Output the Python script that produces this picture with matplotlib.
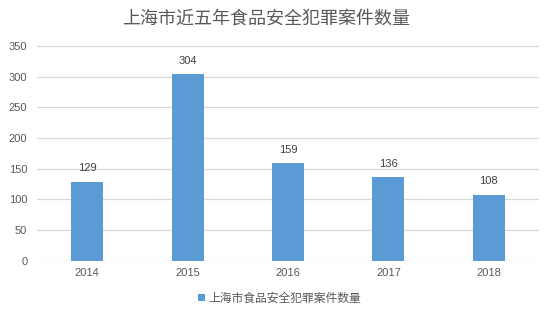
import matplotlib.pyplot as plt

plt.rcParams['font.family'] = ['Liberation Sans', 'Noto Sans CJK SC', 'DejaVu Sans']

# 数据
years = ['2014', '2015', '2016', '2017', '2018']
cases = [129, 304, 159, 136, 108]
title = '上海市近五年食品安全犯罪案件数量'
series_name = '上海市食品安全犯罪案件数量'

bar_color = '#5B9BD5'
text_color = '#595959'
grid_color = '#D9D9D9'

fig = plt.figure(figsize=(5.48, 3.17), dpi=100)
ax = fig.add_axes([0.0675, 0.177, 0.916, 0.678])

x = range(len(years))
bars = ax.bar(x, cases, width=0.32, color=bar_color, label=series_name, zorder=3)

# 柱顶数值
for xi, v in zip(x, cases):
    ax.annotate(str(v), (xi, v), xytext=(0, 6), textcoords='offset points',
                ha='center', va='bottom', fontsize=8, color='#404040')

ax.set_xlim(-0.5, len(years) - 0.5)
ax.set_ylim(0, 350)
ax.set_yticks(range(0, 351, 50))
ax.set_xticks(list(x))
ax.set_xticklabels(years)
ax.tick_params(axis='both', length=0, labelsize=8, colors=text_color)
ax.tick_params(axis='y', pad=7)
ax.tick_params(axis='x', pad=5)
ax.yaxis.grid(True, color=grid_color, linewidth=0.9, zorder=0)
for s in ax.spines.values():
    s.set_visible(False)

fig.text(0.485, 0.94, title, ha='center', va='center', fontsize=13,
         color=text_color)

fig.legend(handles=[bars], labels=[series_name], loc='center',
           bbox_to_anchor=(0.51, 0.058), frameon=False, fontsize=8.5,
           handlelength=0.6, handleheight=0.6, handletextpad=0.3,
           labelcolor=text_color)

fig.savefig('out.png', dpi=100)
